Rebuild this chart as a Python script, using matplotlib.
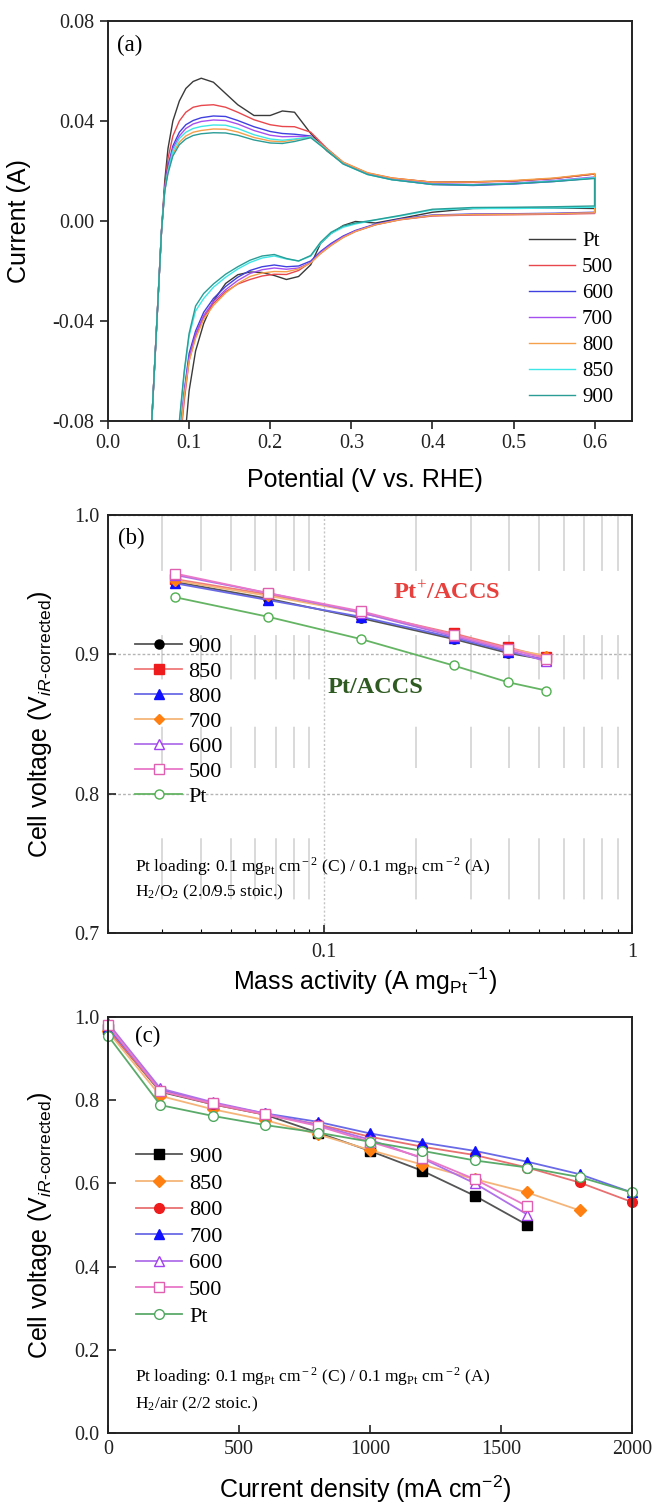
import numpy as np
import matplotlib
matplotlib.use("Agg")
from matplotlib import pyplot as plt
from matplotlib.ticker import FixedLocator, NullFormatter

plt.rcParams['font.family'] = 'Liberation Serif'
plt.rcParams['mathtext.fontset'] = 'custom'
plt.rcParams['mathtext.rm'] = 'Liberation Serif'
plt.rcParams['mathtext.it'] = 'Liberation Sans:italic'
plt.rcParams['mathtext.sf'] = 'Liberation Sans'
plt.rcParams['mathtext.bf'] = 'Liberation Serif:bold'

SANS = 'Liberation Sans'

# ---------------- (a) cyclic voltammograms ----------------
cv_names = ["Pt", "500", "600", "700", "800", "850", "900"]
cv_colors = ["#3a3a3a", "#e8474c", "#4040e0", "#a54ff0", "#f5a04a", "#3fe6e6", "#2a9d96"]

# anodic scan (going up in potential)
v_up = [0.048, 0.054, 0.060, 0.066, 0.070, 0.074, 0.080, 0.088, 0.096, 0.105,
        0.115, 0.130, 0.145, 0.160, 0.180, 0.200, 0.215, 0.230, 0.250, 0.270,
        0.290, 0.320, 0.350, 0.400, 0.450, 0.500, 0.550, 0.600]
i_up_pt = [-0.110, -0.080, -0.042, -0.004, 0.016, 0.029, 0.040, 0.048, 0.0530, 0.0558,
           0.0571, 0.0555, 0.0510, 0.0465, 0.0422, 0.0422, 0.0440, 0.0435, 0.0350, 0.0280,
           0.0230, 0.0190, 0.0170, 0.0155, 0.0157, 0.0160, 0.0170, 0.0188]
i_up_500 = [-0.110, -0.080, -0.042, -0.004, 0.014, 0.025, 0.034, 0.040, 0.0435, 0.0455,
            0.0462, 0.0465, 0.0455, 0.0435, 0.0405, 0.0385, 0.0378, 0.0377, 0.0355, 0.0290,
            0.0235, 0.0192, 0.0172, 0.0155, 0.0155, 0.0160, 0.0170, 0.0188]
i_up_600 = [-0.110, -0.080, -0.042, -0.004, 0.013, 0.022, 0.030, 0.0355, 0.0385, 0.0402,
            0.0413, 0.0420, 0.0418, 0.0402, 0.0377, 0.0358, 0.0350, 0.0347, 0.0340, 0.0285,
            0.0230, 0.0188, 0.0166, 0.0146, 0.0142, 0.0148, 0.0158, 0.0172]
i_up_700 = [-0.110, -0.080, -0.042, -0.004, 0.013, 0.021, 0.029, 0.034, 0.037, 0.0388,
            0.0398, 0.0404, 0.0402, 0.0388, 0.0362, 0.0343, 0.0337, 0.0338, 0.0338, 0.0285,
            0.0232, 0.0190, 0.0168, 0.0150, 0.0146, 0.0152, 0.0162, 0.0176]
i_up_800 = [-0.110, -0.080, -0.042, -0.004, 0.012, 0.020, 0.027, 0.0315, 0.034, 0.0355,
            0.0362, 0.0368, 0.0367, 0.0356, 0.0334, 0.0320, 0.0317, 0.0325, 0.0337, 0.0287,
            0.0235, 0.0193, 0.0172, 0.0155, 0.0156, 0.0162, 0.0172, 0.0190]
i_up_850 = [-0.110, -0.080, -0.042, -0.004, 0.012, 0.020, 0.028, 0.033, 0.0355, 0.0370,
            0.0378, 0.0384, 0.0383, 0.0370, 0.0345, 0.0328, 0.0323, 0.0328, 0.0336, 0.0283,
            0.0228, 0.0186, 0.0165, 0.0147, 0.0145, 0.0150, 0.0160, 0.0173]
i_up_900 = [-0.110, -0.080, -0.042, -0.004, 0.012, 0.019, 0.026, 0.0305, 0.0328, 0.0342,
            0.0349, 0.0353, 0.0352, 0.0343, 0.0324, 0.0312, 0.0310, 0.0318, 0.0333, 0.0282,
            0.0228, 0.0186, 0.0165, 0.0146, 0.0144, 0.0149, 0.0158, 0.0170]

# cathodic scan (going back down in potential)
v_dn = [0.600, 0.550, 0.500, 0.450, 0.400, 0.360, 0.330, 0.305, 0.290, 0.275,
        0.262, 0.250, 0.235, 0.220, 0.205, 0.190, 0.175, 0.160, 0.145, 0.130,
        0.118, 0.108, 0.100, 0.094, 0.088, 0.082]
i_dn_pt = [0.0050, 0.0052, 0.0052, 0.0050, 0.0035, 0.0010, -0.0008, -0.0002, -0.0018, -0.0050,
           -0.0090, -0.0175, -0.0222, -0.0234, -0.0218, -0.0206, -0.0204, -0.0215, -0.0250, -0.0320,
           -0.0410, -0.0520, -0.0680, -0.0900, -0.1080, -0.1250]
i_dn_500 = [0.0030, 0.0027, 0.0025, 0.0024, 0.0020, 0.0005, -0.0015, -0.0042, -0.0065, -0.0097,
            -0.0130, -0.0165, -0.0198, -0.0214, -0.0213, -0.0220, -0.0234, -0.0252, -0.0283, -0.0330,
            -0.0385, -0.0460, -0.0560, -0.0720, -0.0920, -0.1150]
i_dn_600 = [0.0035, 0.0031, 0.0029, 0.0028, 0.0024, 0.0008, -0.0012, -0.0038, -0.0060, -0.0090,
            -0.0122, -0.0160, -0.0180, -0.0183, -0.0176, -0.0183, -0.0198, -0.0225, -0.0262, -0.0310,
            -0.0365, -0.0440, -0.0530, -0.0680, -0.0870, -0.1100]
i_dn_700 = [0.0032, 0.0029, 0.0027, 0.0026, 0.0022, 0.0006, -0.0014, -0.0040, -0.0063, -0.0094,
            -0.0126, -0.0166, -0.0188, -0.0193, -0.0188, -0.0195, -0.0210, -0.0238, -0.0275, -0.0322,
            -0.0378, -0.0452, -0.0545, -0.0690, -0.0880, -0.1100]
i_dn_800 = [0.0033, 0.0029, 0.0027, 0.0026, 0.0022, 0.0005, -0.0015, -0.0042, -0.0066, -0.0098,
            -0.0130, -0.0168, -0.0192, -0.0203, -0.0202, -0.0208, -0.0222, -0.0250, -0.0288, -0.0338,
            -0.0393, -0.0470, -0.0560, -0.0700, -0.0900, -0.1120]
i_dn_850 = [0.0055, 0.0052, 0.0050, 0.0050, 0.0044, 0.0020, 0.0004, -0.0012, -0.0025, -0.0050,
            -0.0090, -0.0140, -0.0160, -0.0152, -0.0140, -0.0148, -0.0166, -0.0192, -0.0225, -0.0265,
            -0.0310, -0.0360, -0.0460, -0.0610, -0.0810, -0.1050]
i_dn_900 = [0.0060, 0.0057, 0.0055, 0.0054, 0.0047, 0.0022, 0.0005, -0.0008, -0.0020, -0.0045,
            -0.0085, -0.0138, -0.0160, -0.0150, -0.0134, -0.0140, -0.0157, -0.0183, -0.0213, -0.0252,
            -0.0290, -0.0340, -0.0450, -0.0600, -0.0800, -0.1050]

cv_up = [i_up_pt, i_up_500, i_up_600, i_up_700, i_up_800, i_up_850, i_up_900]
cv_dn = [i_dn_pt, i_dn_500, i_dn_600, i_dn_700, i_dn_800, i_dn_850, i_dn_900]

# ---------------- (b) mass activity, H2/O2 ----------------
mass_act = [0.033, 0.066, 0.132, 0.264, 0.396, 0.528]
mv_900 = [0.952, 0.940, 0.926, 0.911, 0.901, 0.896]
mv_850 = [0.954, 0.943, 0.930, 0.915, 0.905, 0.898]
mv_800 = [0.951, 0.939, 0.927, 0.912, 0.902, 0.896]
mv_700 = [0.953, 0.942, 0.930, 0.914, 0.904, 0.899]
mv_600 = [0.957, 0.944, 0.930, 0.913, 0.903, 0.895]
mv_500 = [0.958, 0.944, 0.931, 0.914, 0.904, 0.897]
mv_pt = [0.941, 0.927, 0.911, 0.892, 0.880, 0.874]

# ---------------- (c) polarisation, H2/air ----------------
cur_dens = [0, 200, 400, 600, 800, 1000, 1200, 1400, 1600, 1800, 2000]
pv_900 = [0.970, 0.820, 0.790, 0.765, 0.722, 0.678, 0.630, 0.570, 0.500]
pv_850 = [0.965, 0.810, 0.778, 0.752, 0.718, 0.680, 0.645, 0.610, 0.578, 0.535]
pv_800 = [0.970, 0.822, 0.790, 0.765, 0.742, 0.712, 0.688, 0.668, 0.638, 0.602, 0.555]
pv_700 = [0.975, 0.825, 0.792, 0.768, 0.748, 0.720, 0.698, 0.678, 0.652, 0.622, 0.578]
pv_600 = [0.985, 0.828, 0.795, 0.768, 0.740, 0.705, 0.660, 0.600, 0.525]
pv_500 = [0.980, 0.822, 0.792, 0.766, 0.738, 0.700, 0.662, 0.610, 0.545]
pv_pt = [0.955, 0.788, 0.762, 0.740, 0.722, 0.700, 0.678, 0.655, 0.638, 0.615, 0.578]

series_names = ["900", "850", "800", "700", "600", "500", "Pt"]
# (line colour, marker, marker face, marker edge)
styles_b = [("#555555", "o", "#000000", "#000000"),
            ("#f07a7a", "s", "#ee1c1c", "#ee1c1c"),
            ("#6a6ae6", "^", "#1010ff", "#1010ff"),
            ("#f5b57a", "D", "#ff8010", "#ff8010"),
            ("#b070e8", "^", "white", "#a040f0"),
            ("#e878c8", "s", "white", "#e060b0"),
            ("#64b464", "o", "white", "#50b050")]
styles_c = [("#555555", "s", "#000000", "#000000"),
            ("#f5b57a", "D", "#ff8010", "#ff8010"),
            ("#e87070", "o", "#ee1c1c", "#ee1c1c"),
            ("#6a6ae6", "^", "#1010ff", "#1010ff"),
            ("#b070e8", "^", "white", "#a040f0"),
            ("#e878c8", "s", "white", "#e060b0"),
            ("#5aaa6a", "o", "white", "#50a860")]

loading_text = (r'Pt loading: 0.1 mg$_{\rm Pt}$ cm$^{\rm -2}$ (C) / '
                r'0.1 mg$_{\rm Pt}$ cm$^{\rm -2}$ (A)')
cell_label = 'Cell voltage (V$_{\\mathit{iR}\\mathsf{\u2010corrected}}$)'


def style_box(ax, tick_dir):
    for sp in ax.spines.values():
        sp.set_linewidth(1.4)
        sp.set_color("#222222")
    ax.tick_params(which='major', direction=tick_dir, length=6, width=1.2,
                   labelsize=14.5, colors="#222222")
    ax.tick_params(axis='y', pad=6 if tick_dir == 'in' else 4)


def draw_cv(ax):
    for name, color, up, dn in zip(cv_names, cv_colors, cv_up, cv_dn):
        v = np.concatenate([v_up, v_dn])
        i = np.concatenate([up, dn])
        ax.plot(v, i, color=color, lw=1.0, label=name)
    ax.set_xlim(0, 0.646)
    ax.set_ylim(-0.08, 0.08)
    ax.set_xticks([0.0, 0.1, 0.2, 0.3, 0.4, 0.5, 0.6])
    ax.set_xticklabels(["0.0", "0.1", "0.2", "0.3", "0.4", "0.5", "0.6"])
    ax.set_yticks([-0.08, -0.04, 0.0, 0.04, 0.08])
    ax.set_yticklabels(["-0.08", "-0.04", "0.00", "0.04", "0.08"])
    style_box(ax, 'out')
    ax.set_xlabel("Potential (V vs. RHE)", fontfamily=SANS, fontsize=18)
    ax.set_ylabel("Current (A)", fontfamily=SANS, fontsize=18)
    ax.xaxis.set_label_coords(0.49, -0.118)
    ax.yaxis.set_label_coords(-0.147, 0.5)
    ax.text(0.018, 0.94, "(a)", transform=ax.transAxes, fontsize=16.5, va='center')
    ax.legend(loc='upper left', bbox_to_anchor=(0.803, 0.474), frameon=False,
              fontsize=15, handlelength=2.2, handletextpad=0.35,
              labelspacing=0.31, borderpad=0, borderaxespad=0)


def draw_mass_activity(ax):
    ax.set_axisbelow(True)
    ys = [mv_900, mv_850, mv_800, mv_700, mv_600, mv_500, mv_pt]
    handles = []
    for name, (lc, mk, mf, me), y in zip(series_names, styles_b, ys):
        ms = 5 if mk == 'D' else 6.5
        h, = ax.plot(mass_act, y, color=lc, lw=1.3, marker=mk, ms=ms,
                     mfc=mf, mec=me, mew=1.0, label=name)
        handles.append(h)
    ax.set_xscale('log')
    ax.set_xlim(0.02, 1)
    ax.set_ylim(0.7, 1.0)
    ax.xaxis.set_major_locator(FixedLocator([0.1, 1]))
    ax.set_xticklabels(["0.1", "1"])
    ax.xaxis.set_minor_locator(FixedLocator(
        [0.02, 0.03, 0.04, 0.05, 0.06, 0.07, 0.08, 0.09,
         0.2, 0.3, 0.4, 0.5, 0.6, 0.7, 0.8, 0.9]))
    ax.xaxis.set_minor_formatter(NullFormatter())
    ax.set_yticks([0.7, 0.8, 0.9, 1.0])
    ax.set_yticklabels(["0.7", "0.8", "0.9", "1.0"])
    style_box(ax, 'in')
    ax.tick_params(axis='x', which='minor', direction='in', length=3, width=0.8)
    ax.tick_params(axis='x', pad=7)
    ax.grid(which='major', axis='y', color='#b4b4b4', lw=1.0, linestyle=(0, (2, 1.5)))
    ax.grid(which='major', axis='x', color='#c4c4c4', lw=1.0, linestyle=(0, (1.5, 1.5)))
    ax.grid(which='minor', axis='x', color='#cfcfcf', lw=1.1,
            linestyle=(278, (40, 46, 27, 31, 29, 42, 40, 45)))
    ax.set_xlabel(r'Mass activity (A mg$_{\mathsf{Pt}}$$^{\mathsf{-1}}$)',
                  fontfamily=SANS, fontsize=18)
    ax.set_ylabel(cell_label, fontfamily=SANS, fontsize=18)
    ax.xaxis.set_label_coords(0.49, -0.078)
    ax.yaxis.set_label_coords(-0.103, 0.5)
    ax.text(0.02, 0.945, "(b)", transform=ax.transAxes, fontsize=16.5, va='center')
    ax.text(0.647, 0.815, r'Pt$^{+}$/ACCS', transform=ax.transAxes, fontsize=17.5,
            fontweight='bold', color='#e8403c', ha='center', va='center')
    ax.text(0.51, 0.588, 'Pt/ACCS', transform=ax.transAxes, fontsize=17.5,
            fontweight='bold', color='#2f5a22', ha='center', va='center')
    ax.text(0.052, 0.159, loading_text, transform=ax.transAxes, fontsize=12.5,
            va='center')
    ax.text(0.052, 0.098, r'H$_2$/O$_2$ (2.0/9.5 stoic.)', transform=ax.transAxes,
            fontsize=12.5, va='center')
    ax.legend(handles=handles, loc='upper left', bbox_to_anchor=(0.052, 0.709),
              frameon=False, fontsize=16, handlelength=2.1, handletextpad=0.3,
              labelspacing=0.2, borderpad=0, borderaxespad=0)


def draw_polarisation(ax):
    ys = [pv_900, pv_850, pv_800, pv_700, pv_600, pv_500, pv_pt]
    handles = []
    for name, (lc, mk, mf, me), y in zip(series_names, styles_c, ys):
        ms = 6 if mk == 'D' else 7
        h, = ax.plot(cur_dens[:len(y)], y, color=lc, lw=1.3, marker=mk, ms=ms,
                     mfc=mf, mec=me, mew=1.0, label=name, clip_on=False)
        handles.append(h)
    ax.set_xlim(0, 2000)
    ax.set_ylim(0, 1.0)
    ax.set_xticks([0, 500, 1000, 1500, 2000])
    ax.set_xticklabels(["0", "500", "1000", "1500", "2000"])
    ax.set_yticks([0.0, 0.2, 0.4, 0.6, 0.8, 1.0])
    ax.set_yticklabels(["0.0", "0.2", "0.4", "0.6", "0.8", "1.0"])
    style_box(ax, 'in')
    ax.tick_params(axis='x', pad=5)
    ax.set_xlabel(r'Current density (mA cm$^{\mathsf{-2}}$)', fontfamily=SANS,
                  fontsize=18)
    ax.set_ylabel(cell_label, fontfamily=SANS, fontsize=18)
    ax.xaxis.set_label_coords(0.49, -0.098)
    ax.yaxis.set_label_coords(-0.103, 0.5)
    ax.text(0.052, 0.952, "(c)", transform=ax.transAxes, fontsize=16.5, va='center')
    ax.text(0.052, 0.135, loading_text, transform=ax.transAxes, fontsize=12.5,
            va='center')
    ax.text(0.052, 0.068, r'H$_2$/air (2/2 stoic.)', transform=ax.transAxes,
            fontsize=12.5, va='center')
    ax.legend(handles=handles, loc='upper left', bbox_to_anchor=(0.053, 0.688),
              frameon=False, fontsize=16, handlelength=2.1, handletextpad=0.3,
              labelspacing=0.27, borderpad=0, borderaxespad=0)


fig = plt.figure(figsize=(6.52, 15.09), dpi=100)
ax_a = fig.add_axes([0.1656, 0.7210, 0.8037, 0.2651])
ax_b = fig.add_axes([0.1656, 0.3817, 0.8037, 0.2770])
ax_c = fig.add_axes([0.1656, 0.0504, 0.8037, 0.2757])

draw_cv(ax_a)
draw_mass_activity(ax_b)
draw_polarisation(ax_c)

fig.savefig("out.png", dpi=100)
